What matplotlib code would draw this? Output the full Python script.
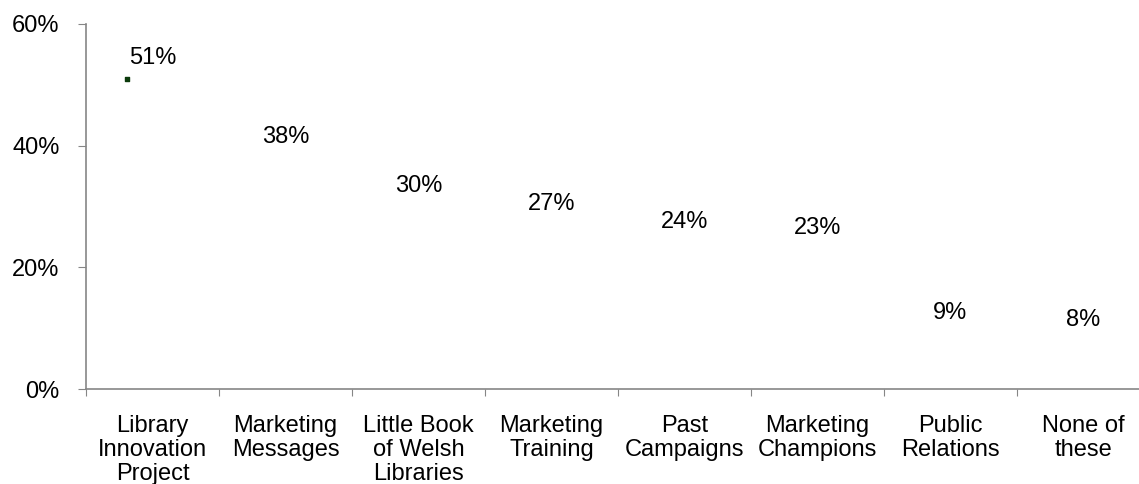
import matplotlib.pyplot as plt
import numpy as np

plt.rcParams['font.family'] = ['Liberation Sans', 'DejaVu Sans']

# Campaign awareness shares
categories = ['Library\nInnovation\nProject', 'Marketing\nMessages', 'Little Book\nof Welsh\nLibraries',
              'Marketing\nTraining', 'Past\nCampaigns', 'Marketing\nChampions', 'Public\nRelations',
              'None of\nthese']
values = [0.51, 0.38, 0.30, 0.27, 0.24, 0.23, 0.09, 0.08]
y_ticks = [0, 0.2, 0.4, 0.6]
y_labels = ['0%', '20%', '40%', '60%']

fig = plt.figure(figsize=(11.39, 4.84), dpi=100)
ax = fig.add_axes([86 / 1139, 95 / 484, 1064 / 1139, 365 / 484])

x = np.arange(len(categories))
# bars are drawn white so only the value labels show
ax.bar(x, values, width=0.6, color='white', edgecolor='none')
# small marker left over at the top of the first bar
ax.scatter([x[0] - 0.19], [values[0]], marker='s', s=6, color='#0b3a0b', zorder=3)

for xi, v in zip(x, values):
    ax.annotate(f'{round(v * 100)}%', (xi, v), xytext=(0, 15), textcoords='offset points',
                ha='center', va='center', fontsize=17)

ax.set_xlim(-0.5, len(categories) - 0.5)
ax.set_ylim(0, 0.6)
ax.set_yticks(y_ticks)
ax.set_yticklabels(y_labels, fontsize=17)

# tick marks at the category boundaries
ax.set_xticks(np.append(x - 0.5, x[-1] + 0.5))
ax.set_xticklabels([])
ax.tick_params(axis='x', which='major', length=5, color='#868686', direction='out')

# category names sit between the tick marks
ax.set_xticks(x, minor=True)
ax.set_xticklabels(categories, minor=True, fontsize=17, linespacing=1.1)
ax.tick_params(axis='x', which='minor', length=0, pad=19)
ax.tick_params(axis='y', length=6, color='#868686', pad=13)

for side in ['top', 'right']:
    ax.spines[side].set_visible(False)
for side in ['left', 'bottom']:
    ax.spines[side].set_color('#868686')
    ax.spines[side].set_linewidth(1.2)

fig.savefig('out.png', dpi=100)
